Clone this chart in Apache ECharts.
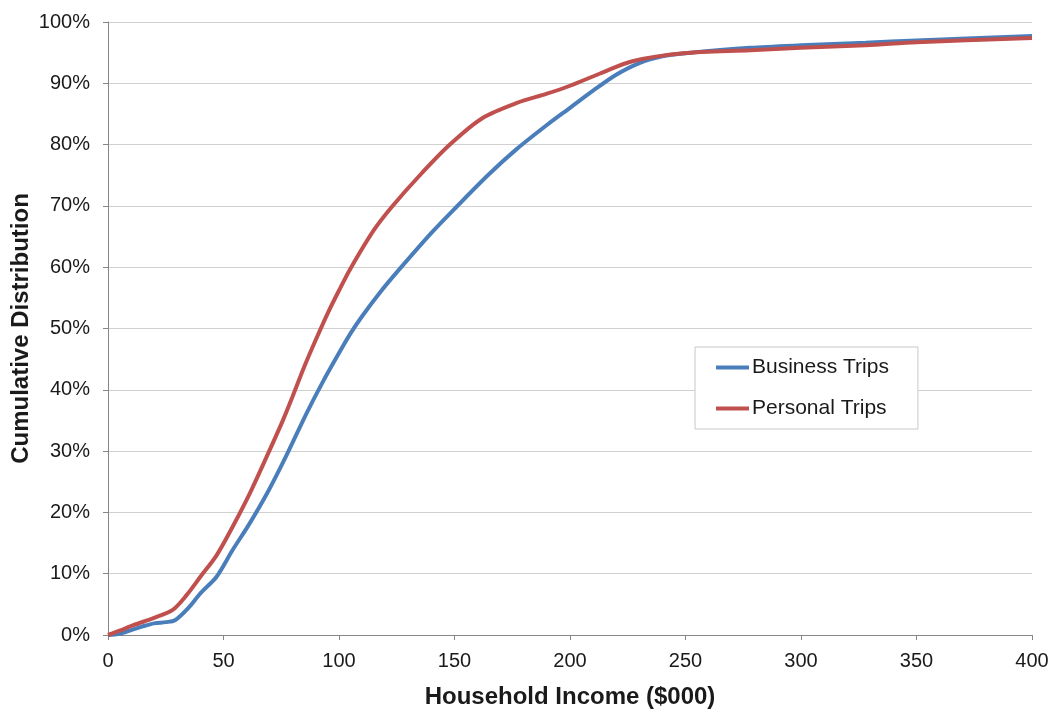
<!DOCTYPE html>
<html>
<head>
<meta charset="utf-8">
<script src="https://cdn.jsdelivr.net/npm/echarts@6/dist/echarts.min.js"></script>
<style>
  html, body { margin: 0; padding: 0; background: #fff; }
  #chart { width: 1052px; height: 713px; }
</style>
</head>
<body>
<div id="chart"></div>
<script>
// Household income ($000) and cumulative share of trips (%)
const businessIncome = [0, 5, 10, 15, 20, 25, 29, 35, 40, 47, 54, 61, 69, 77, 86, 93, 100, 105, 110, 118, 126, 140, 151, 165, 177, 190, 200, 210, 220, 230, 240, 250, 278, 300, 328, 350, 400];
const businessShare  = [0, 0.2, 0.8, 1.4, 1.9, 2.1, 2.4, 4.5, 6.8, 9.5, 13.9, 18.0, 23.2, 29.1, 36.2, 41.3, 46.0, 49.2, 52.0, 56.0, 59.6, 65.6, 69.9, 75.2, 79.3, 83.2, 86.0, 88.8, 91.4, 93.3, 94.4, 94.9, 95.8, 96.2, 96.6, 97.0, 97.7];

const personalIncome = [0, 5, 11, 20, 28, 34, 40, 47, 54, 61.5, 68.7, 75.8, 80, 85, 90, 95, 100, 105, 115, 123, 135, 148, 162, 177, 190, 200, 213, 227, 249, 278, 300, 328, 350, 400];
const personalShare  = [0, 0.7, 1.6, 2.8, 4.1, 6.5, 9.5, 13.0, 17.7, 23.2, 29.1, 35.1, 39.0, 43.8, 48.2, 52.4, 56.2, 59.8, 66.0, 69.9, 75.0, 80.0, 84.3, 86.8, 88.3, 89.6, 91.6, 93.6, 94.9, 95.4, 95.8, 96.2, 96.7, 97.4];

const seriesNames = ['Business Trips', 'Personal Trips'];
const xTitle = 'Household Income ($000)';
const yTitle = 'Cumulative Distribution';

const pairs = (xs, ys) => xs.map((x, i) => [x, ys[i]]);

const FONT = '"Liberation Sans", Arial, sans-serif';
const AXIS_GREY = '#868686';
const TEXT = '#1a1a1a';

const chart = echarts.init(document.getElementById('chart'), null, { renderer: 'canvas' });

chart.setOption({
  backgroundColor: '#ffffff',
  animation: false,
  textStyle: { fontFamily: FONT },
  grid: { left: 108, right: 20, top: 22, bottom: 78, containLabel: false, outerBoundsMode: 'none' },
  legend: {
    orient: 'vertical',
    left: 695,
    top: 347,
    data: seriesNames,
    icon: 'rect',
    itemWidth: 33,
    itemHeight: 4,
    itemGap: 20,
    padding: [10, 29, 10, 21],
    borderColor: '#c8c8c8',
    borderWidth: 1,
    backgroundColor: '#ffffff',
    textStyle: { fontFamily: FONT, fontSize: 21, color: TEXT, padding: [0, 0, 0, -2] }
  },
  xAxis: {
    type: 'value',
    min: 0,
    max: 400,
    interval: 50,
    name: xTitle,
    nameLocation: 'middle',
    nameGap: 50,
    nameMoveOverlap: false,
    nameTextStyle: { fontFamily: FONT, fontSize: 24, fontWeight: 'bold', color: TEXT },
    axisLine: { show: true, lineStyle: { color: AXIS_GREY, width: 1 } },
    axisTick: { show: true, length: 5, lineStyle: { color: AXIS_GREY } },
    axisLabel: { fontFamily: FONT, fontSize: 20, color: TEXT, margin: 16 },
    splitLine: { show: false }
  },
  yAxis: {
    type: 'value',
    min: 0,
    max: 100,
    interval: 10,
    name: yTitle,
    nameLocation: 'middle',
    nameGap: 75,
    nameMoveOverlap: false,
    nameTextStyle: { fontFamily: FONT, fontSize: 24, fontWeight: 'bold', color: TEXT },
    axisLine: { show: true, lineStyle: { color: AXIS_GREY, width: 1 } },
    axisTick: { show: true, length: 5, inside: false, lineStyle: { color: AXIS_GREY } },
    axisLabel: { fontFamily: FONT, fontSize: 20, color: TEXT, margin: 18, formatter: '{value}%' },
    splitLine: { show: true, lineStyle: { color: '#d0d0d0', width: 1 } }
  },
  series: [
    {
      name: seriesNames[0],
      type: 'line',
      data: pairs(businessIncome, businessShare),
      smooth: 0.3,
      showSymbol: false,
      symbol: 'none',
      lineStyle: { color: '#4a7ebb', width: 4 },
      itemStyle: { color: '#4a7ebb' },
      z: 2
    },
    {
      name: seriesNames[1],
      type: 'line',
      data: pairs(personalIncome, personalShare),
      smooth: 0.3,
      showSymbol: false,
      symbol: 'none',
      lineStyle: { color: '#c0504d', width: 4 },
      itemStyle: { color: '#c0504d' },
      z: 3
    }
  ]
});
</script>
</body>
</html>
